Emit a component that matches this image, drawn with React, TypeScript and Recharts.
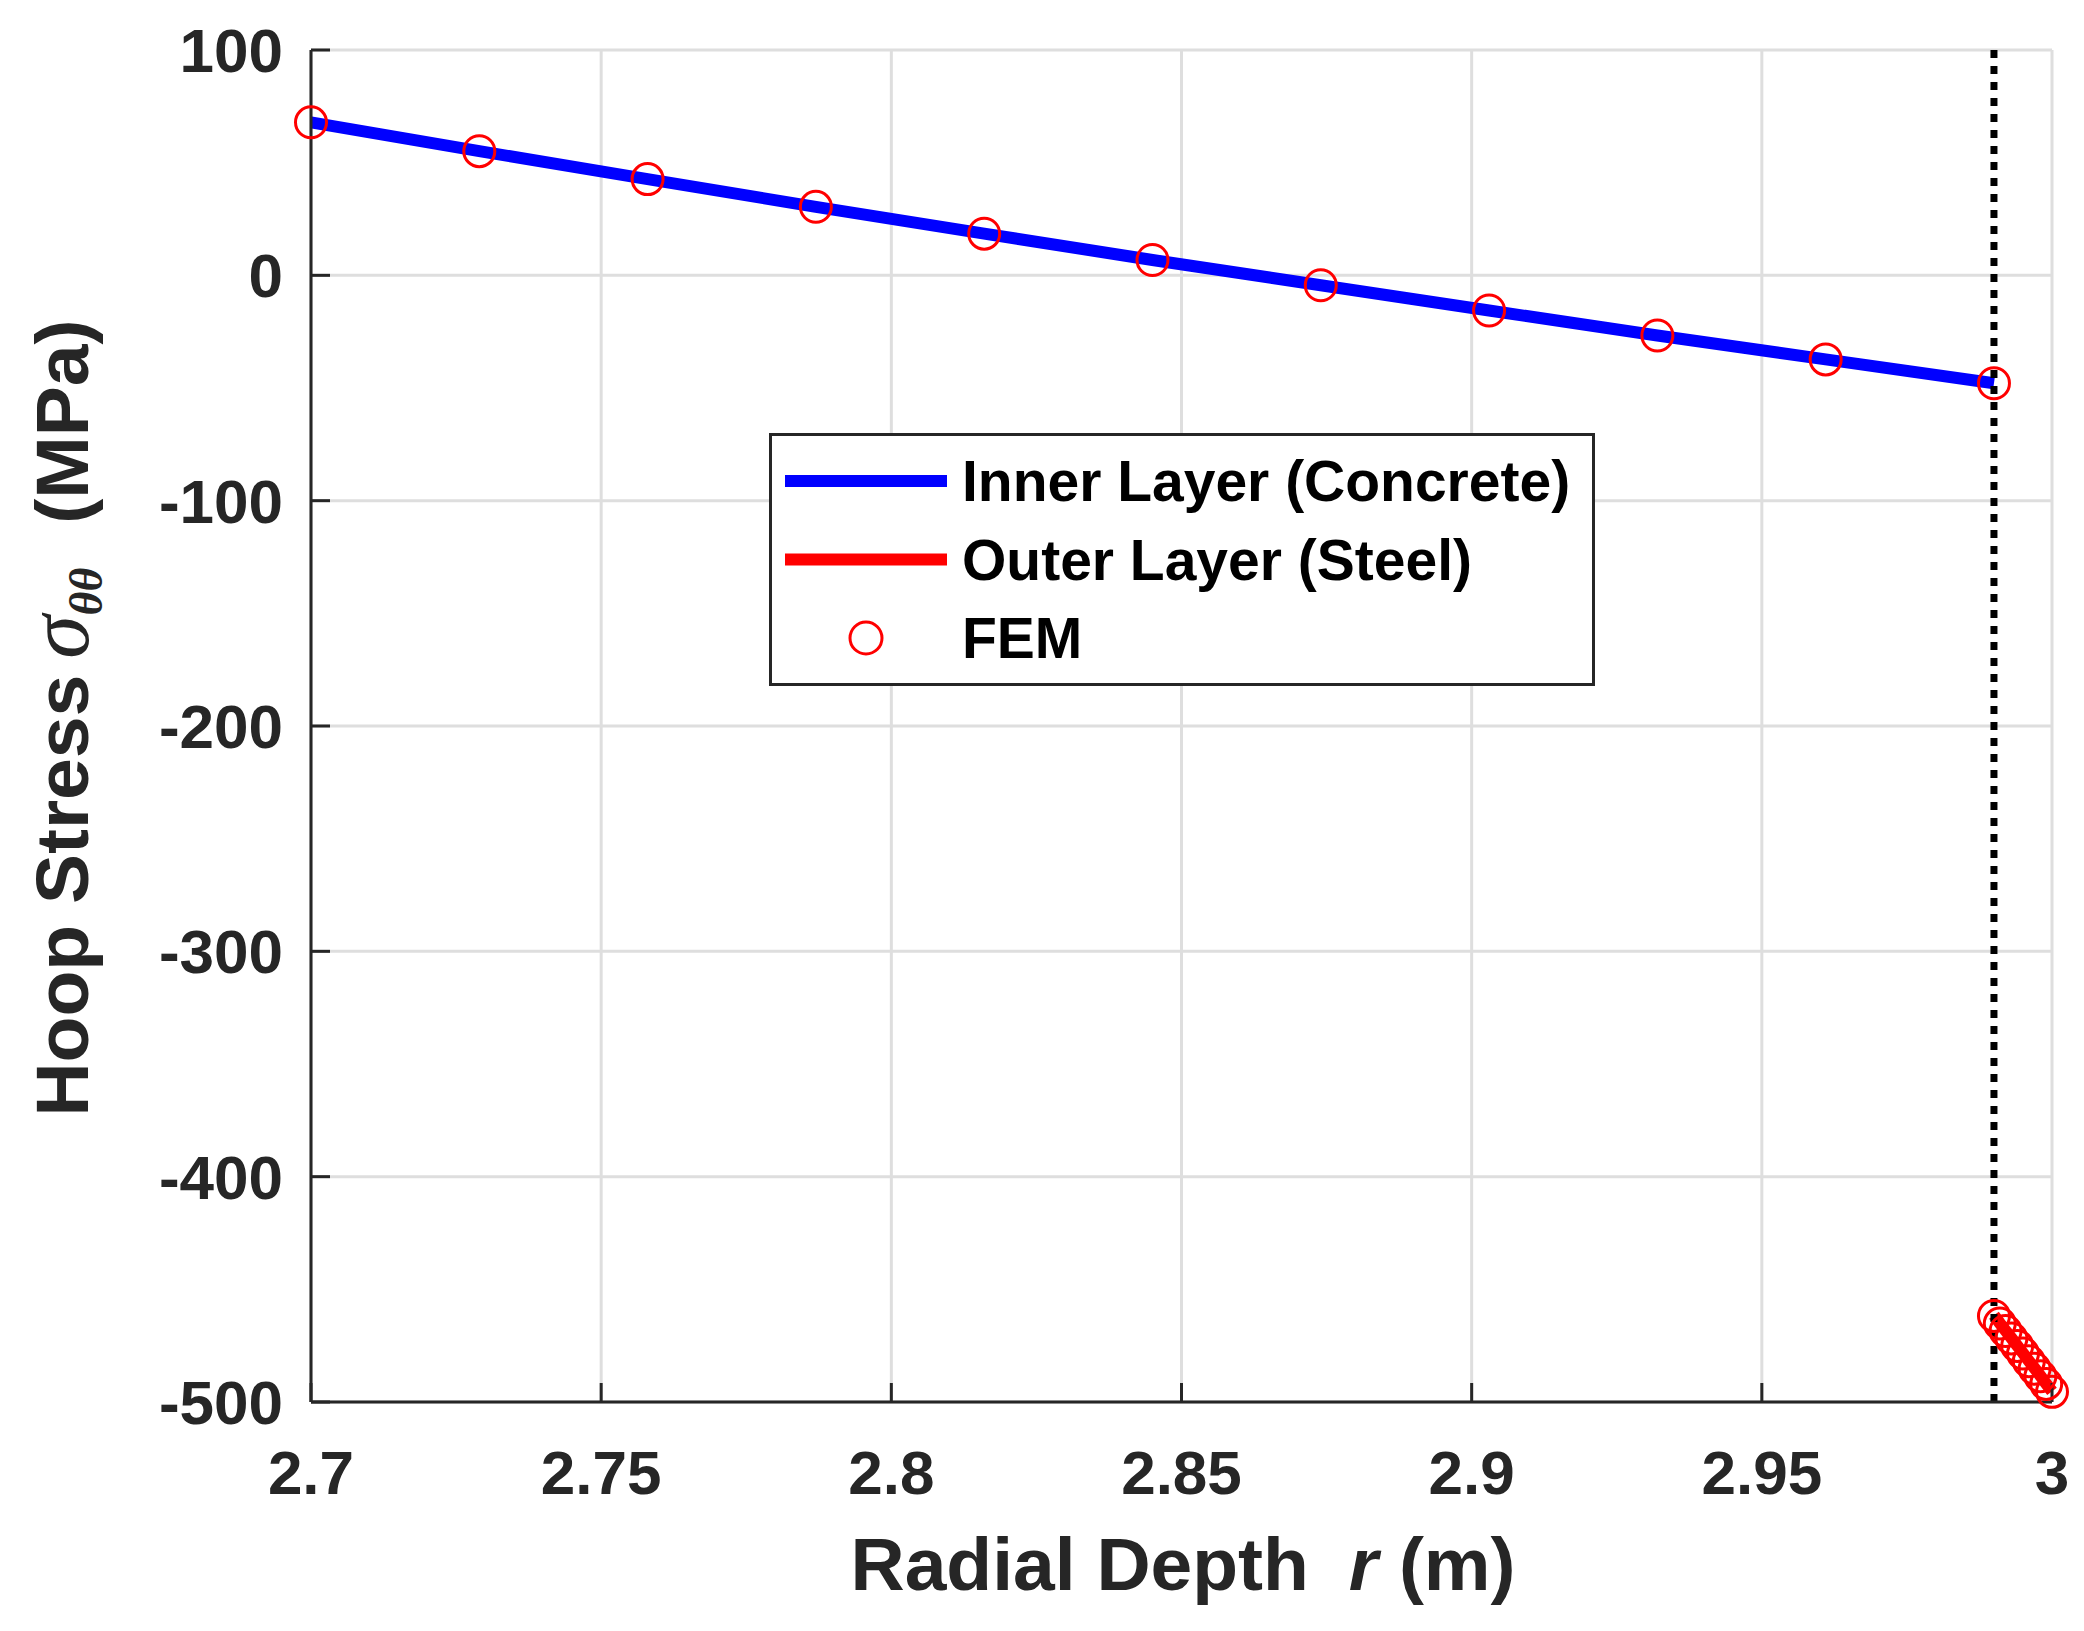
import React from 'react';
import { ComposedChart, Line, Scatter, XAxis, YAxis, CartesianGrid, ReferenceLine } from 'recharts';

// ---- data ----
const concreteR = [2.7, 2.729, 2.758, 2.787, 2.816, 2.845, 2.874, 2.903, 2.932, 2.961, 2.99];
const concreteStress = [67.9, 55.1, 42.7, 30.4, 18.5, 6.8, -4.4, -15.6, -26.7, -37.3, -47.9];

const steelR = [2.99, 2.991, 2.992, 2.993, 2.994, 2.995, 2.996, 2.997, 2.998, 2.999, 3.0];
const steelStress = [-461.5, -465.0, -468.3, -471.6, -475.0, -478.3, -481.7, -485.0, -488.4, -491.9, -495.3];

const femConcreteStress = [67.9, 55.1, 42.7, 30.4, 18.5, 6.8, -4.4, -15.6, -26.7, -37.3, -47.9];
const femSteelStress = [-461.8, -465.2, -468.5, -471.8, -475.1, -478.5, -481.9, -485.2, -488.6, -492.0, -495.5];

const xTicks = [2.7, 2.75, 2.8, 2.85, 2.9, 2.95, 3];
const yTicks = [-500, -400, -300, -200, -100, 0, 100];
const interfaceR = 2.99;

const legendItems = [
  { label: 'Inner Layer (Concrete)', kind: 'line', color: '#0000ff' },
  { label: 'Outer Layer (Steel)', kind: 'line', color: '#ff0000' },
  { label: 'FEM', kind: 'circle', color: '#ff0000' },
];

const concreteData = concreteR.map((r, i) => ({ r, s: concreteStress[i] }));
const steelData = steelR.map((r, i) => ({ r, s: steelStress[i] }));
const femData = [
  ...concreteR.map((r, i) => ({ r, s: femConcreteStress[i] })),
  ...steelR.map((r, i) => ({ r, s: femSteelStress[i] })),
];

const FONT = '"Liberation Sans", Arial, Helvetica, sans-serif';
const SERIF = '"Liberation Serif", "DejaVu Serif", serif';
const AXIS = '#262626';

const tickStyle = { fontSize: 62, fontFamily: FONT, fontWeight: 700, fill: AXIS };

const XLabel = () => (
  <text x={1183} y={1590} textAnchor="middle" fontSize={75} fontFamily={FONT} fontWeight={700} fill={AXIS}>
    <tspan>Radial Depth</tspan>
    <tspan dx={40} fontStyle="italic">r</tspan>
    <tspan> (m)</tspan>
  </text>
);

const YLabel = () => (
  <text
    transform="rotate(-90, 88, 718)"
    x={88}
    y={718}
    textAnchor="middle"
    fontSize={75}
    fontFamily={FONT}
    fontWeight={700}
    fill={AXIS}
  >
    <tspan>Hoop Stress</tspan>
    <tspan dx={16} fontStyle="italic" fontWeight={400} fontSize={88} fontFamily={SERIF}>σ</tspan>
    <tspan fontStyle="italic" fontWeight={700} fontSize={46} dy={14} fontFamily={SERIF}>θθ</tspan>
    <tspan dx={44} dy={-14}>(MPa)</tspan>
  </text>
);

const FemCircle = (props: any) => {
  const { cx, cy } = props;
  if (cx == null || cy == null) return null;
  return <circle cx={cx} cy={cy} r={15.5} fill="none" stroke="#ff0000" strokeWidth={3} />;
};

const LegendBox = () => (
  <div
    style={{
      position: 'absolute',
      left: 769,
      top: 433,
      width: 826,
      height: 253,
      boxSizing: 'border-box',
      border: `3px solid ${AXIS}`,
      background: '#ffffff',
    }}
  >
    <svg width={820} height={247} style={{ display: 'block' }}>
      {legendItems.map((it, i) => {
        const cy = 45 + i * 78.5;
        return (
          <g key={it.label}>
            {it.kind === 'line' ? (
              <line x1={13} x2={175} y1={cy} y2={cy} stroke={it.color} strokeWidth={12} />
            ) : (
              <circle cx={94} cy={cy} r={16} fill="none" stroke={it.color} strokeWidth={3} />
            )}
            <text x={190} y={cy + 20} fontSize={57} fontFamily={FONT} fontWeight={700} fill="#000000">
              {it.label}
            </text>
          </g>
        );
      })}
    </svg>
  </div>
);

export default function App() {
  return (
    <div style={{ position: 'relative', width: 2084, height: 1631, background: '#ffffff' }}>
      <style>{`body{margin:0;background:#fff;}`}</style>
      <ComposedChart width={2084} height={1631} margin={{ top: 50, right: 32, bottom: 0, left: 0 }}>
        <CartesianGrid stroke="#dedede" strokeWidth={3} />
        <XAxis
          xAxisId={0}
          dataKey="r"
          type="number"
          domain={[2.7, 3]}
          ticks={xTicks}
          height={229}
          tickSize={-19}
          tickMargin={67}
          tick={tickStyle}
          tickFormatter={(v: number) => String(v)}
          axisLine={{ stroke: AXIS, strokeWidth: 3 }}
          tickLine={{ stroke: AXIS, strokeWidth: 3 }}
          interval={0}
          label={<XLabel />}
        />
        <XAxis
          xAxisId="top"
          orientation="top"
          type="number"
          domain={[2.7, 3]}
          ticks={xTicks}
          height={0}
          tickSize={-19}
          tick={false}
          axisLine={{ stroke: AXIS, strokeWidth: 3 }}
          tickLine={{ stroke: AXIS, strokeWidth: 3 }}
          interval={0}
        />
        <YAxis
          yAxisId={0}
          dataKey="s"
          type="number"
          domain={[-500, 100]}
          ticks={yTicks}
          width={311}
          tickSize={-19}
          tickMargin={47}
          tick={tickStyle}
          axisLine={{ stroke: AXIS, strokeWidth: 3 }}
          tickLine={{ stroke: AXIS, strokeWidth: 3 }}
          interval={0}
          label={<YLabel />}
        />
        <YAxis
          yAxisId="right"
          orientation="right"
          type="number"
          domain={[-500, 100]}
          ticks={yTicks}
          width={0}
          tickSize={-19}
          tick={false}
          axisLine={{ stroke: AXIS, strokeWidth: 3 }}
          tickLine={{ stroke: AXIS, strokeWidth: 3 }}
          interval={0}
        />
        <Line
          data={concreteData}
          dataKey="s"
          type="linear"
          stroke="#0000ff"
          strokeWidth={12}
          dot={false}
          activeDot={false}
          isAnimationActive={false}
        />
        <Line
          data={steelData}
          dataKey="s"
          type="linear"
          stroke="#ff0000"
          strokeWidth={12}
          dot={false}
          activeDot={false}
          isAnimationActive={false}
        />
        <ReferenceLine x={interfaceR} stroke="#000000" strokeWidth={7} strokeDasharray="8 8" />
        <Scatter data={femData} dataKey="s" shape={<FemCircle />} isAnimationActive={false} />
      </ComposedChart>
      <LegendBox />
    </div>
  );
}
